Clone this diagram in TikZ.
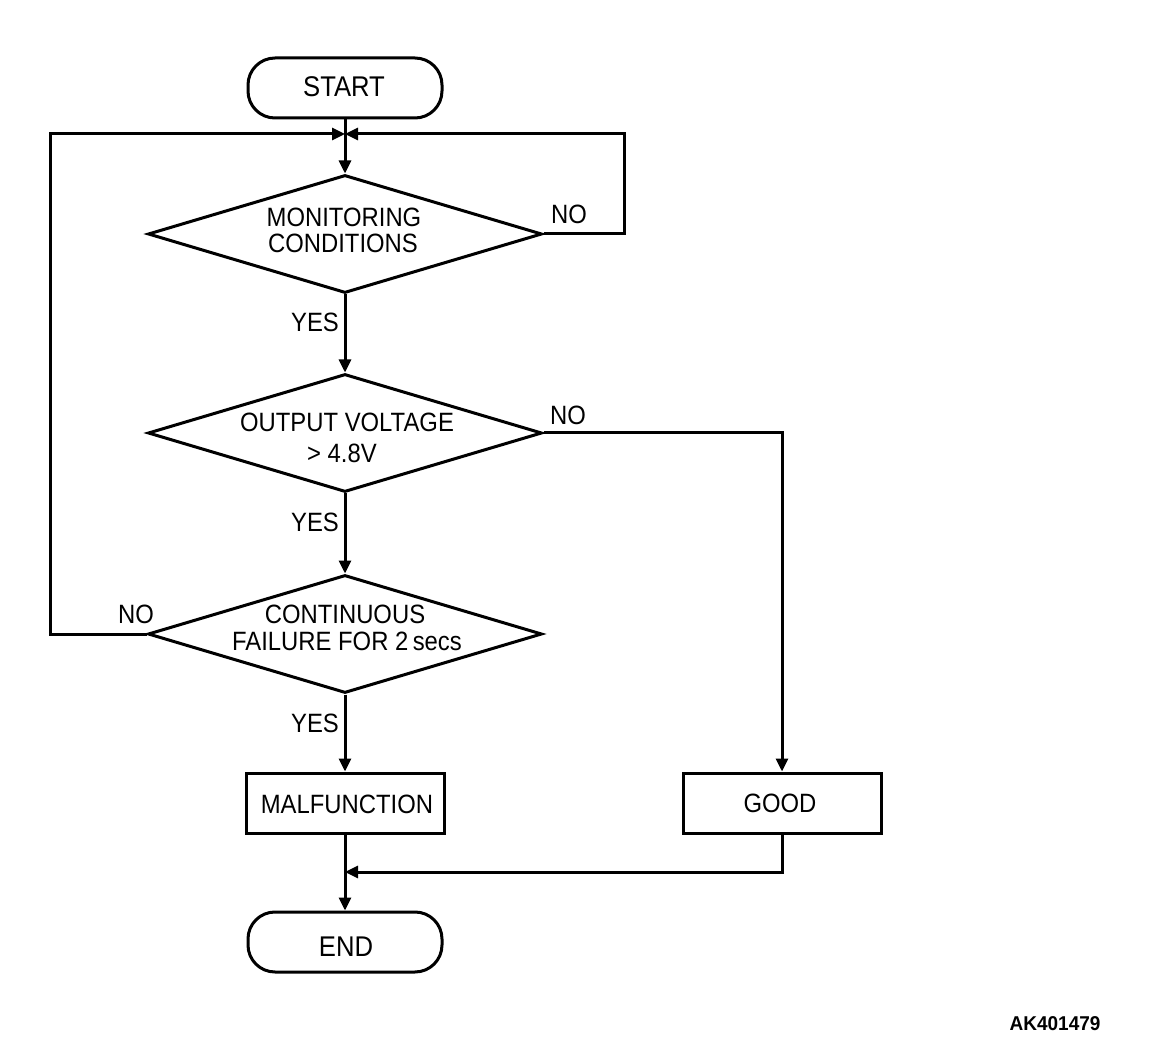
\documentclass[tikz,border=0pt]{standalone}
\usepackage{fontspec}
\setmainfont{Liberation Sans}[FakeStretch=0.9]
\newfontfamily\boldfam{Liberation Sans}[FakeStretch=0.95]
\usetikzlibrary{shapes.geometric,arrows.meta}
\begin{document}
\begin{tikzpicture}[x=1pt,y=-1pt,
  line width=3pt,
  tip/.style={-{Triangle[length=13pt,width=12pt]}},
  term/.style={draw,rounded corners=27pt,minimum width=194pt,minimum height=60pt,inner sep=0pt},
  boxnode/.style={draw,minimum width=198pt,minimum height=60pt,inner sep=0pt},
  dia/.style={draw,diamond,minimum width=394pt,minimum height=118pt,inner sep=0pt},
  txt/.style={font=\fontsize{26.5}{30}\selectfont,inner sep=0pt,anchor=base},
  big/.style={font=\fontsize{28.5}{32}\selectfont,inner sep=0pt,anchor=base}]
\useasboundingbox (0,0) rectangle (1152,1048);

\node[term] (start) at (345,88) {};
\node[big] (startt) at (344,97) {START};
\node[dia] (d1) at (345,234) {};
\node[txt] (d1a) at (344,227) {MONITORING};
\node[txt] (d1b) at (343,253) {CONDITIONS};
\node[dia] (d2) at (345,433) {};
\node[txt] (d2a) at (347,432) {OUTPUT VOLTAGE};
\node[txt] (d2b) at (342,463) {> 4.8V};
\node[dia] (d3) at (345,634) {};
\node[txt] (d3a) at (345,623) {CONTINUOUS};
\node[txt] (d3b) at (347,650) {FAILURE FOR 2\,secs};
\node[boxnode] (mal) at (345,803) {};
\node[txt] (malt) at (347,813) {MALFUNCTION};
\node[boxnode] (good) at (782,803) {};
\node[txt] (goodt) at (780,812) {GOOD};
\node[term] (end) at (345,942) {};
\node[big] (endt) at (346,956) {END};

\coordinate (j) at (345,134);
\coordinate (jl) at (50,134);
\coordinate (jr) at (624,134);
\coordinate (m) at (345,872);

% labels
\node[txt] (no1) at (569,224) {NO};
\node[txt] (yes1) at (315,332) {YES};
\node[txt] (no2) at (568,425) {NO};
\node[txt] (yes2) at (315,531) {YES};
\node[txt] (no3) at (136,623) {NO};
\node[txt] (yes3) at (315,732) {YES};
\node[font=\boldfam\bfseries\fontsize{20}{24}\selectfont,inner sep=0pt,anchor=base east] (code) at (1102,1030) {AK401479};

% connectors
\draw (start.south) -- (j);
\draw[tip] (j) -- (d1.north);
\draw[tip] (d1.east) -- (jr |- d1.east) -- (jr) -- (j);
\draw[tip] (d1.south) -- (d2.north);
\draw[tip] (d2.south) -- (d3.north);
\draw[tip] (d3.west) -- (jl |- d3.west) -- (jl) -- (j);
\draw[tip] (d2.east) -- (good.north |- d2.east) -- (good.north);
\draw[tip] (d3.south) -- (mal.north);
\draw[tip] (mal.south) -- (end.north);
\draw[tip] (good.south) -- (good.south |- m) -- (m);
\end{tikzpicture}
\end{document}
